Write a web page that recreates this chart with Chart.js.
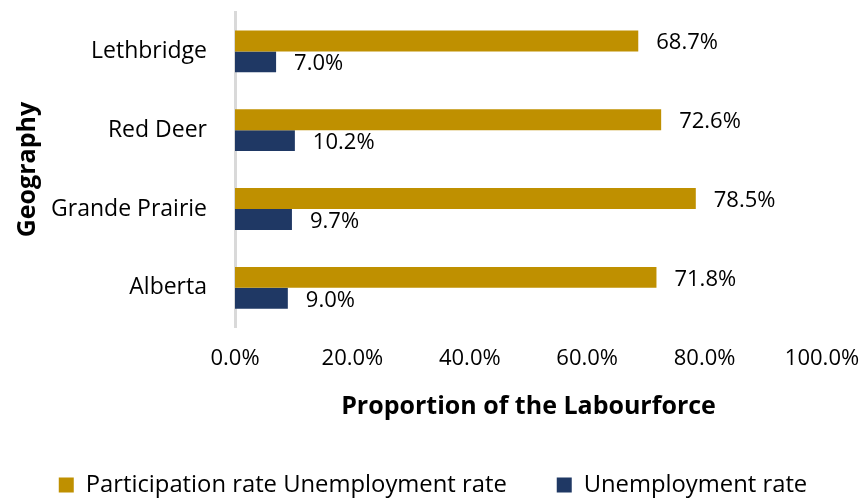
<!DOCTYPE html>
<html>
<head>
<meta charset="utf-8">
<script src="https://cdn.jsdelivr.net/npm/chart.js@4"></script>
<style>
  html, body { margin: 0; padding: 0; background: #fff; }
  #wrap { width: 866px; height: 499px; }
</style>
</head>
<body>
<div id="wrap"><canvas id="myChart"></canvas></div>
<script>
// chart data
const geographies = ['Lethbridge', 'Red Deer', 'Grande Prairie', 'Alberta'];
const participationRate = [68.7, 72.6, 78.5, 71.8];
const unemploymentRate = [7.0, 10.2, 9.7, 9.0];
const xTicks = [0, 20, 40, 60, 80, 100];

const fontFamily = "'Open Sans', sans-serif";

// draws the value next to the end of each bar
const barValueLabels = {
  id: 'barValueLabels',
  afterDatasetsDraw(chart) {
    const ctx = chart.ctx;
    ctx.save();
    ctx.font = '22px ' + fontFamily;
    ctx.fillStyle = '#000';
    ctx.textAlign = 'left';
    ctx.textBaseline = 'middle';
    chart.data.datasets.forEach((ds, i) => {
      const meta = chart.getDatasetMeta(i);
      meta.data.forEach((bar, j) => {
        ctx.fillText(ds.data[j].toFixed(1) + '%', bar.x + 18, bar.y + 2);
      });
    });
    ctx.restore();
  }
};

const ctx = document.getElementById('myChart').getContext('2d');
const myChart = new Chart(ctx, {
  type: 'bar',
  data: {
    labels: geographies,
    datasets: [{
      label: 'Participation rate Unemployment rate',
      data: participationRate,
      backgroundColor: '#BF9000',
      borderWidth: 0,
    }, {
      label: 'Unemployment rate',
      data: unemploymentRate,
      backgroundColor: '#1F3864',
      borderWidth: 0,
    }],
  },
  options: {
    indexAxis: 'y',
    responsive: true,
    maintainAspectRatio: false,
    animation: false,
    datasets: {
      bar: { categoryPercentage: 0.53, barPercentage: 1.0 },
    },
    layout: {
      padding: { top: 12, right: 0, bottom: -8, left: 0 },
    },
    scales: {
      x: {
        min: 0,
        max: 100,
        afterBuildTicks: scale => { scale.ticks = xTicks.map(v => ({ value: v })); },
        afterFit: scale => {
          scale.height = 96;
          scale.paddingLeft = 0;
          scale.paddingRight = 0;
        },
        grid: { display: false, drawTicks: false },
        border: { display: false },
        ticks: {
          padding: 18,
          color: '#000',
          font: { family: fontFamily, size: 22 },
          callback: v => v.toFixed(1) + '%',
        },
        title: {
          display: true,
          text: 'Proportion of the Labourforce',
          color: '#000',
          font: { family: fontFamily, size: 25, weight: 'bold' },
          padding: { top: 0, bottom: 1 },
        },
      },
      y: {
        afterFit: scale => {
          scale.width = 235;
          scale.paddingTop = 0;
          scale.paddingBottom = 0;
        },
        grid: { display: false, drawTicks: false },
        border: { display: true, color: '#d9d9d9', width: 3 },
        ticks: {
          padding: 28,
          color: '#000',
          font: { family: fontFamily, size: 23 },
        },
        title: {
          display: true,
          text: 'Geography',
          color: '#000',
          font: { family: fontFamily, size: 25, weight: 'bold' },
          padding: { top: 13, bottom: 0 },
        },
      },
      // empty right-hand margin for the 100.0% label
      yRight: {
        type: 'category',
        position: 'right',
        afterFit: scale => {
          scale.width = 44;
          scale.paddingTop = 0;
          scale.paddingBottom = 0;
        },
        grid: { display: false, drawTicks: false },
        border: { display: false },
        ticks: { display: false },
      },
    },
    plugins: {
      legend: {
        position: 'bottom',
        labels: {
          boxWidth: 15,
          boxHeight: 15,
          padding: 50,
          color: '#000',
          font: { family: fontFamily, size: 23.8 },
        },
      },
      tooltip: { enabled: false },
    },
  },
  plugins: [barValueLabels],
});
</script>
</body>
</html>
